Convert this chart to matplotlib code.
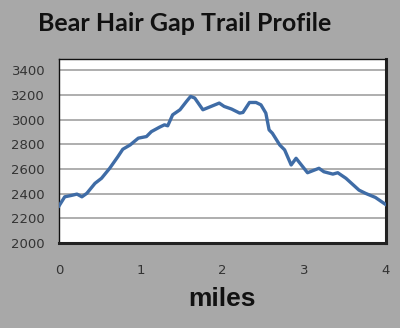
import matplotlib
matplotlib.use("Agg")
import matplotlib.pyplot as plt

miles = [0.0, 0.07, 0.15, 0.22, 0.28, 0.34, 0.44, 0.52, 0.62, 0.72, 0.78, 0.87, 0.97,
         1.07, 1.13, 1.23, 1.29, 1.33, 1.39, 1.48, 1.56, 1.61, 1.66, 1.76, 1.86, 1.96,
         2.02, 2.11, 2.21, 2.25, 2.33, 2.41, 2.47, 2.53, 2.57, 2.61, 2.70, 2.76, 2.84,
         2.90, 3.04, 3.18, 3.24, 3.35, 3.41, 3.51, 3.67, 3.75, 3.87, 4.0]
elevation = [2300, 2374, 2385, 2396, 2374, 2402, 2483, 2524, 2605, 2699, 2759, 2794, 2849,
             2862, 2902, 2938, 2957, 2949, 3038, 3079, 3147, 3187, 3174, 3079, 3106, 3133,
             3106, 3085, 3052, 3057, 3138, 3138, 3119, 3052, 2916, 2889, 2794, 2754, 2632,
             2686, 2569, 2605, 2577, 2558, 2569, 2524, 2428, 2402, 2369, 2310]
yticks = [2000, 2200, 2400, 2600, 2800, 3000, 3200, 3400]
xticks = [0, 1, 2, 3, 4]

bg = "#a8a8a8"
fig = plt.figure(figsize=(4.0, 3.28), dpi=100, facecolor=bg)
ax = fig.add_axes([59/400, (328-243)/328, 327/400, 184/328])
ax.set_facecolor("white")
ax.plot(miles, elevation, color="#3f6ca6", linewidth=2.4, solid_joinstyle="round", zorder=3)
ax.set_xlim(0, 4)
ax.set_ylim(2000, 3490)
ax.set_yticks(yticks)
ax.set_xticks(xticks)
ax.yaxis.grid(True, color="#999999", linewidth=1.1)
ax.set_axisbelow(True)
ax.tick_params(length=0, labelsize=9.5, labelcolor="#333333")
ax.tick_params(axis="x", pad=15)
ax.tick_params(axis="y", pad=10)
for s in ["left", "top"]:
    ax.spines[s].set_linewidth(1.0)
    ax.spines[s].set_color("#111111")
for s in ["right", "bottom"]:
    ax.spines[s].set_linewidth(2.2)
    ax.spines[s].set_color("#222222")

fig.text(184.5/400, 1 - 23.5/328, "Bear Hair Gap Trail Profile", ha="center", va="center",
         fontsize=18, fontweight="bold", family="Lato", color="#111111")
fig.text(222/400, 1 - 299/328, "miles", ha="center", va="center",
         fontsize=19, fontweight="bold", family="Liberation Sans", color="#111111")

fig.savefig("out.png", dpi=100, facecolor=bg)
